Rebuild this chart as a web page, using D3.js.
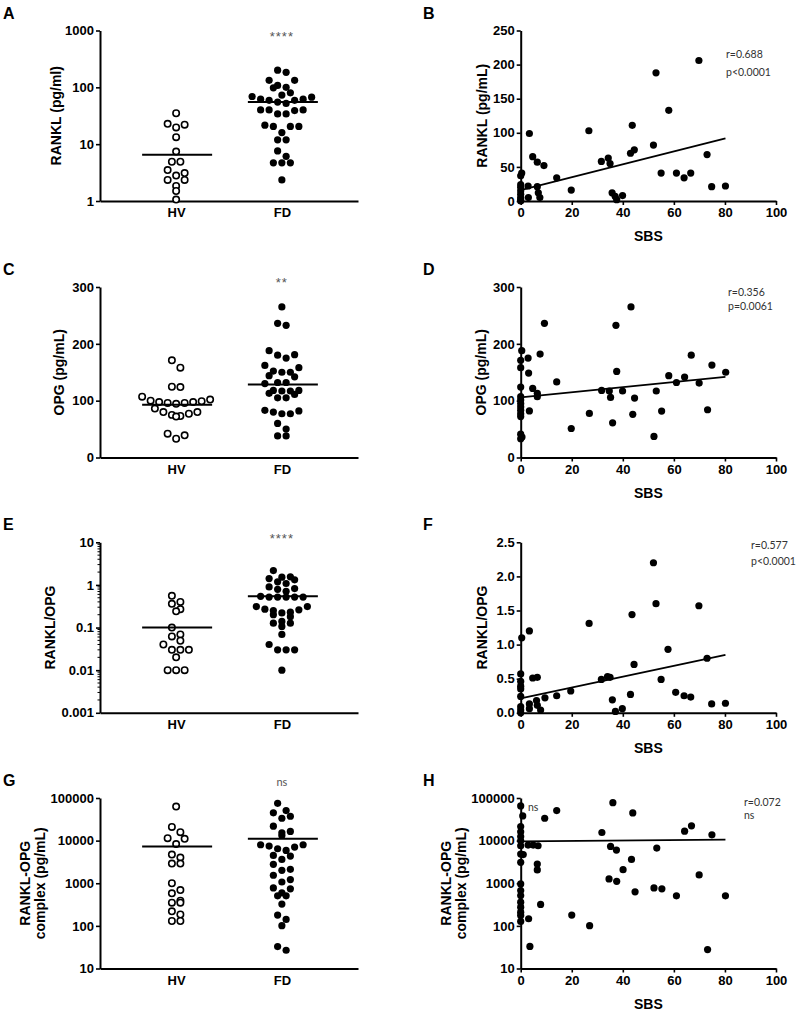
<!DOCTYPE html>
<html><head><meta charset="utf-8">
<script src="https://cdn.jsdelivr.net/npm/d3@7"></script>
<style>body{margin:0;background:#fff}</style>
</head><body><svg id="c" width="800" height="1015" style="background:#fff"></svg>
<script>
// ---------------- data ----------------
const groups = ["HV", "FD"];
const sbsTicks = [0, 20, 40, 60, 80, 100];

// A: RANKL (pg/ml), log
const ranklHV = [35,22.8,22,19.7,13.3,7.4,4.9,4.9,3.5,2.8,3.1,2.35,2.35,1.84,1.5,1.06];
const ranklFD = [200,184,133,133,100,98,108,80,69,62,59,55,59,62,67,73,52,40,39,34,34,40,40,20.5,20.5,20.5,21.6,16,11.9,11.9,7.6,6.1,4.7,4.7,4.7,2.35];
const ranklMedian = [6.5, 55];
const ranklLogTicks = [1, 10, 100, 1000];

// C: OPG (pg/mL)
const opgHV = [171,158,124.5,124,107,100,97.5,96,94.5,96,97.5,99,102,86,80,77,73,72,75,80,42,33,39];
const opgFD = [265,236,232.5,181,175,180,188,158,150,144,150,152,162,142,132,130,132,118,117,111,105,105,118,113,117,83,77,80,77,82,50,60,38,38];
const opgMedian = [93, 128.6];
const opgTicks = [0, 100, 200, 300];

// E: RANKL/OPG, log
const ratioHV = [0.556,0.36,0.40,0.24,0.27,0.1,0.062,0.069,0.04,0.049,0.030,0.030,0.030,0.020,0.01,0.01,0.01];
const ratioFD = [2.17,1.55,1.41,1.18,1.08,1.32,1.52,0.90,0.79,0.71,0.82,0.54,0.52,0.52,0.52,0.52,0.52,0.31,0.26,0.22,0.18,0.23,0.25,0.27,0.31,0.20,0.127,0.106,0.127,0.139,0.069,0.040,0.030,0.030,0.030,0.01];
const ratioMedian = [0.1, 0.54];
const ratioLogTicks = [0.001, 0.01, 0.1, 1, 10];

// G: RANKL-OPG complex (pg/mL), log
const complexHV = [62800,21000,15800,11000,11400,8300,4000,4700,2900,2900,1000,690,580,390,350,350,220,185,130,130];
const complexFD = [75000,45000,33500,37300,50600,21800,15300,13200,16400,8000,7450,6450,7050,8000,5890,4350,3630,4500,2780,2010,2120,1540,1220,1070,778,738,506,595,506,324,179,142,101,26.8,32.7];
const complexMedian = [7300, 11000];
const complexLogTicks = [10, 100, 1000, 10000, 100000];

// B: RANKL vs SBS
const sbsB = [0,0,0,0,0,0,0,0,0.4, 2.9,3,3.4,4.7,6.5,6.5,6.9,7.5,9.1, 14.1,19.8,26.7,31.6,34.3,35,35.8,37,37.6,39.9, 43,43.7,44.5,52,53,55,58,61,64,66.6, 69.8,73,74.8,80.2];
const ranklB = [0,2,5,10,15,20,24,37,41, 22,5,99,65,57,21,12,5,52, 34,16,103,58,63,55,12,7,2,8, 70,111,75,82,188,41,133,41,34,41, 206,68,21,22];
const fitB = [16, 92];
const rankLinTicks = [0, 50, 100, 150, 200, 250];

// D: OPG vs SBS
const sbsD = [0.4,0,0,0,0,0,0,0,0,0,0,0,0.5,0, 2.9,3.1,3.4,4.7,6.5,6.5,7.6,9.3,14.1,19.8, 26.9,31.7,34.7,35.2,36,37.3,37.6,39.9,43.2,43.9, 44.6,52.2,53.1,55.2,58,61,64.2,66.8,69.9,73.2, 74.9,80.3];
const opgD = [188,171,158,124,107,101,95,89,83,77,72,41,36,33, 175,148.6,82,121.5,113,107,182,236,133,51, 77.5,118,117,105.7,61,232.5,151.5,117,265,76, 104.5,37,117,81.6,144,132,141.5,180,131,84, 162.6,150];
const fitD = [105.7, 142];

// F: RANKL/OPG vs SBS
const sbsF = [0.4,0,0,0,0,0,0,0,0, 3.4,4.7,6.5,3.4,3.4,6.2,6.5,7.8,9.5,14.1,19.6, 26.8,31.6,34,35,35.9,37.1,39.8,43,44.4,43.6, 52,53,55,57.7,60.7,64,66.6,69.8,73,74.8,80.2];
const ratioF = [1.10,0.57,0.46,0.39,0.35,0.24,0.09,0.04,0.0, 1.2,0.51,0.52,0.13,0.06,0.18,0.11,0.04,0.22,0.25,0.32, 1.31,0.49,0.53,0.52,0.19,0.02,0.06,0.27,0.71,1.44, 2.2,1.6,0.49,0.93,0.30,0.25,0.23,1.57,0.80,0.13,0.14];
const fitF = [0.21, 0.85];
const ratioLinTicks = [0, 0.5, 1.0, 1.5, 2.0, 2.5];

// H: complex vs SBS
const sbsH = [0,0.8,0,0,0,0,0,0,1,0,0,0,0,0,0,0,0,0, 2.9,3.1,3.6,4.9,6.8,6.5,6.5,7.8,9.4,14.1, 20,27,31.8,35.2,36.1,37.5,34.6,37.6,40.1,43.4, 43.9,44.8,52.2,53.3,55.3,61,64.2,66.9,69.9,73.2, 74.9,80.2];
const complexH = [65000,38000,21400,16100,12500,9900,7580,4840,4700,3090,964,674,515,360,275,210,176,127, 7850,147,33,7850,7580,2820,2050,318,33500,50600, 179,101,15500,7310,77800,6000,1260,1110,2080,3630, 44700,628,778,6680,738,506,16700,22200,1570,27.8, 13700,506];
const fitH = [9600, 10600];
const fitX = [0, 80.2];

// ---------------- drawing ----------------
const svg = d3.select("#c");
const FONT = "'Liberation Sans', Arial, sans-serif";
const NOTE = "Lato, 'Open Sans', sans-serif";
const LX = [100, 358], RX = [520.7, 776];
const ROWS = [30.5, 287, 542.3, 798];
const PH = 170.5;

function styleAxis(g) {
  g.select(".domain").attr("stroke", "#000").attr("stroke-width", 2);
  g.selectAll(".tick line").attr("stroke", "#000").attr("stroke-width", 1.6);
  g.selectAll(".tick text").attr("fill", "#000").style("font-family", FONT)
    .style("font-weight", "bold").style("font-size", "13px");
}

function text(x, y, s, opts = {}) {
  return svg.append("text").attr("x", x).attr("y", y).text(s)
    .style("font-family", opts.family || FONT)
    .style("font-weight", opts.weight || "bold")
    .style("font-size", (opts.size || 13) + "px")
    .attr("fill", opts.fill || "#000")
    .attr("text-anchor", opts.anchor || "start")
    .style("letter-spacing", opts.ls || null);
}

function yTitle(lines, xs, cy) {
  lines.forEach((l, i) => {
    svg.append("text").attr("transform", `translate(${xs[i]},${cy}) rotate(-90)`)
      .attr("dy", "0.35em").attr("text-anchor", "middle").text(l)
      .style("font-family", FONT).style("font-weight", "bold").style("font-size", "14px");
  });
}

// GraphPad-like scatter: points with close values share a row, spread symmetrically
function swarm(vals, y, cx, spacing = 8.5, thresh = 7.5) {
  const pts = vals.map(v => ({ v, y: y(v) })).sort((a, b) => a.y - b.y);
  const rows = []; let cur = null;
  for (const p of pts) {
    if (!cur || p.y - cur.y0 > thresh) { cur = { y0: p.y, items: [] }; rows.push(cur); }
    cur.items.push(p);
  }
  rows.forEach(r => {
    const n = r.items.length;
    const slots = d3.range(n).map(i => (i - (n - 1) / 2) * spacing);
    let L = 0, R = n - 1;
    r.items.forEach((p, i) => { p.x = cx + (i % 2 === 0 ? slots[L++] : slots[R--]); });
  });
  return pts;
}

function dotPanel(o) {
  const top = ROWS[o.row], bottom = top + PH;
  const x = d3.scalePoint(groups, LX).padding(0.72);
  const y = (o.log ? d3.scaleLog() : d3.scaleLinear()).domain(o.domain).range([bottom, top]);
  const ya = svg.append("g").attr("transform", `translate(${LX[0]},0)`)
    .call(d3.axisLeft(y).tickValues(o.ticks).tickFormat(d => String(d)).tickSize(4).tickPadding(2).tickSizeOuter(0));
  styleAxis(ya);
  if (o.minor) {
    const minors = [];
    for (let e = Math.log10(o.domain[0]); e < Math.log10(o.domain[1]); e++)
      for (let k = 2; k <= 9; k++) minors.push(k * Math.pow(10, e));
    svg.append("g").selectAll("line").data(minors).join("line")
      .attr("x1", LX[0] - 2.5).attr("x2", LX[0]).attr("y1", d => y(d)).attr("y2", d => y(d))
      .attr("stroke", "#000").attr("stroke-width", 1);
  }
  const xa = svg.append("g").attr("transform", `translate(0,${bottom})`)
    .call(d3.axisBottom(x).tickSize(0).tickPadding(7).tickSizeOuter(0));
  styleAxis(xa);
  [o.hv, o.fd].forEach((vals, gi) => {
    const pts = swarm(vals, y, x(groups[gi]));
    svg.append("g").selectAll("circle").data(pts).join("circle")
      .attr("cx", d => d.x).attr("cy", d => d.y)
      .attr("r", gi === 0 ? 3.2 : 3.6)
      .attr("fill", gi === 0 ? "#fff" : "#000")
      .attr("stroke", "#000").attr("stroke-width", gi === 0 ? 1.6 : 0);
    svg.append("line").attr("x1", x(groups[gi]) - 34).attr("x2", x(groups[gi]) + 36)
      .attr("y1", y(o.median[gi])).attr("y2", y(o.median[gi]))
      .attr("stroke", "#000").attr("stroke-width", 2);
  });
  yTitle(o.title, o.titleX, (top + bottom) / 2);
  text(3, top - 12, o.letter, { size: 16 });
  text(x("FD"), top + o.sigDy, o.sig, { family: o.sig === "ns" ? NOTE : FONT, weight: "normal", size: o.sig === "ns" ? 11 : 13, fill: "#555", anchor: "middle", ls: o.sig === "ns" ? null : "1px" });
}

function scatterPanel(o) {
  const top = ROWS[o.row], bottom = top + PH;
  const x = d3.scaleLinear().domain([0, 100]).range(RX);
  const y = (o.log ? d3.scaleLog() : d3.scaleLinear()).domain(o.domain).range([bottom, top]);
  const ya = svg.append("g").attr("transform", `translate(${RX[0]},0)`)
    .call(d3.axisLeft(y).tickValues(o.ticks).tickFormat(o.fmt || (d => String(d))).tickSize(4).tickPadding(2).tickSizeOuter(0));
  styleAxis(ya);
  const xa = svg.append("g").attr("transform", `translate(0,${bottom})`)
    .call(d3.axisBottom(x).tickValues(sbsTicks).tickSize(4).tickPadding(3).tickSizeOuter(0));
  styleAxis(xa);
  svg.append("g").selectAll("circle").data(o.xs.map((v, i) => [v, o.ys[i]])).join("circle")
    .attr("cx", d => x(d[0])).attr("cy", d => y(Math.max(d[1], o.log ? o.domain[0] : d[1])))
    .attr("r", 3.6).attr("fill", "#000");
  svg.append("line").attr("x1", x(fitX[0])).attr("x2", x(fitX[1]))
    .attr("y1", y(o.fit[0])).attr("y2", y(o.fit[1]))
    .attr("stroke", "#000").attr("stroke-width", 1.8);
  yTitle(o.title, o.titleX, (top + bottom) / 2);
  text(423, top - 12, o.letter, { size: 16 });
  text((RX[0] + RX[1]) / 2, bottom + 40, "SBS", { size: 14, anchor: "middle" });
  o.notes.forEach(n => text(n[0], top + n[1], n[2], { family: NOTE, weight: "normal", size: 10.5, fill: "#333" }));
}

dotPanel({ row: 0, letter: "A", log: true, domain: [1, 1000], ticks: ranklLogTicks, hv: ranklHV, fd: ranklFD, median: ranklMedian, title: ["RANKL (pg/ml)"], titleX: [56], sig: "****", sigDy: 10 });
dotPanel({ row: 1, letter: "C", log: false, domain: [0, 300], ticks: opgTicks, hv: opgHV, fd: opgFD, median: opgMedian, title: ["OPG (pg/mL)"], titleX: [59], sig: "**", sigDy: 0 });
dotPanel({ row: 2, letter: "E", log: true, minor: true, domain: [0.001, 10], ticks: ratioLogTicks, hv: ratioHV, fd: ratioFD, median: ratioMedian, title: ["RANKL/OPG"], titleX: [50], sig: "****", sigDy: 1 });
dotPanel({ row: 3, letter: "G", log: true, domain: [10, 100000], ticks: complexLogTicks, hv: complexHV, fd: complexFD, median: complexMedian, title: ["RANKL-OPG", "complex (pg/mL)"], titleX: [25, 40], sig: "ns", sigDy: -12 });

scatterPanel({ row: 0, letter: "B", domain: [0, 250], ticks: rankLinTicks, xs: sbsB, ys: ranklB, fit: fitB, title: ["RANKL (pg/mL)"], titleX: [482], notes: [[726, 27, "r=0.688"], [726, 45, "p<0.0001"]] });
scatterPanel({ row: 1, letter: "D", domain: [0, 300], ticks: opgTicks, xs: sbsD, ys: opgD, fit: fitD, title: ["OPG (pg/mL)"], titleX: [481], notes: [[728, 9, "r=0.356"], [728, 23, "p=0.0061"]] });
scatterPanel({ row: 2, letter: "F", domain: [0, 2.5], ticks: ratioLinTicks, fmt: d3.format(".1f"), xs: sbsF, ys: ratioF, fit: fitF, title: ["RANKL/OPG"], titleX: [482], notes: [[751, 7, "r=0.577"], [751, 23, "p<0.0001"]] });
scatterPanel({ row: 3, letter: "H", log: true, domain: [10, 100000], ticks: complexLogTicks, xs: sbsH, ys: complexH, fit: fitH, title: ["RANKL-OPG", "complex (pg/mL)"], titleX: [446, 461], notes: [[744, 8, "r=0.072"], [744, 21, "ns"], [528, 13, "ns"]] });
</script></body></html>
